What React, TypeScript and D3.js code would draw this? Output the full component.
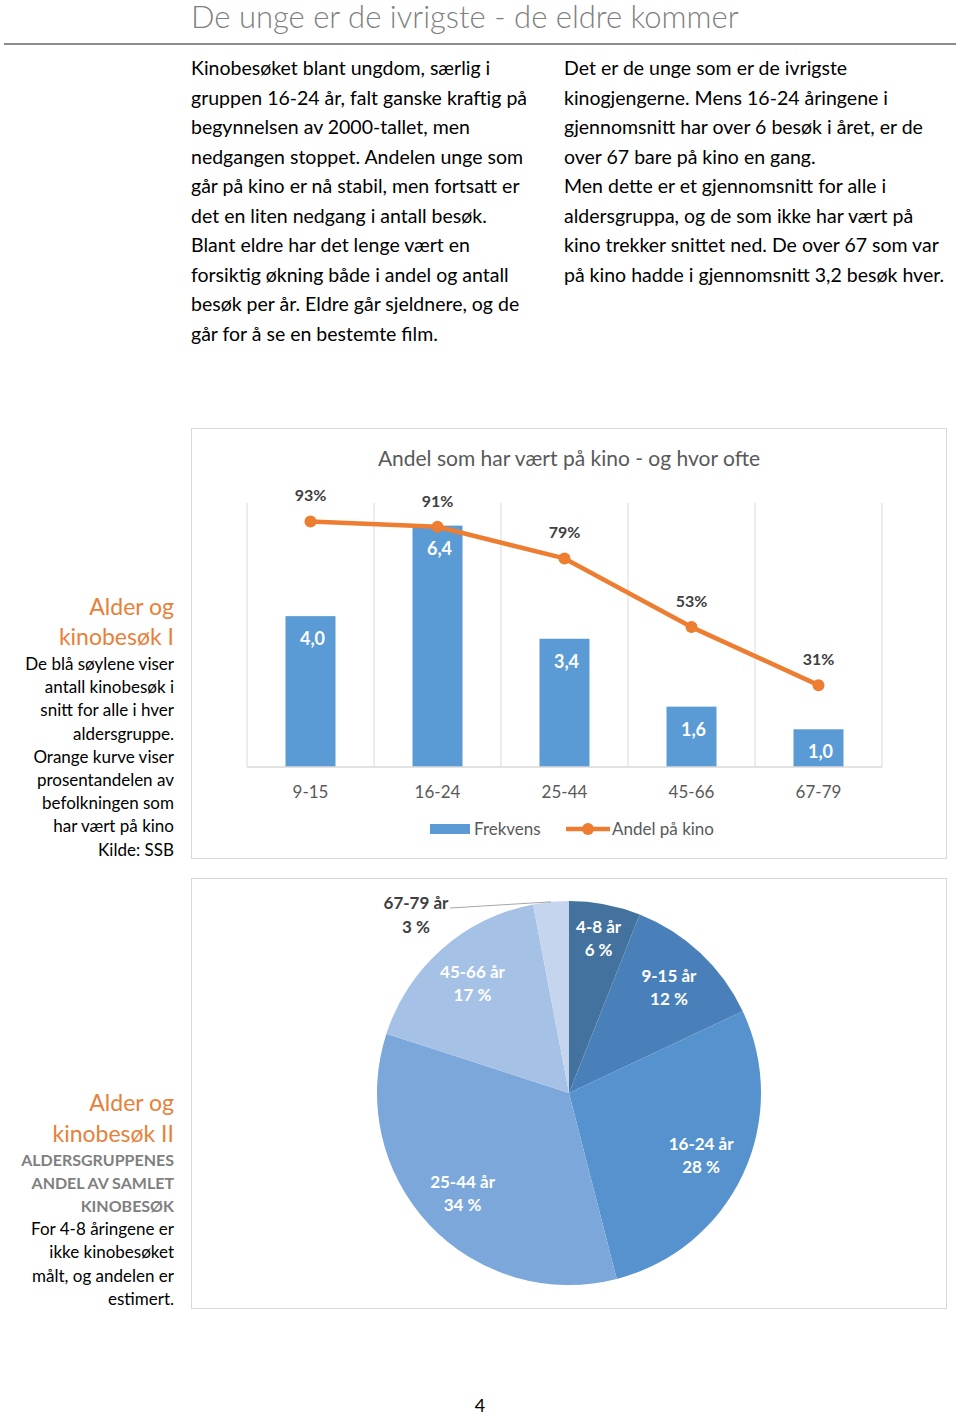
import React from "react";
import * as d3 from "d3";

const categories = ["9-15", "16-24", "25-44", "45-66", "67-79"];
const frekvens = [4.0, 6.4, 3.4, 1.6, 1.0];
const andel = [0.93, 0.91, 0.79, 0.53, 0.31];

const pieLabels = ["4-8 år", "9-15 år", "16-24 år", "25-44 år", "45-66 år", "67-79 år"];
const pieValues = [6, 12, 28, 34, 17, 3];
const pieColors = ["#44729f", "#4a80ba", "#5692cd", "#7ba7da", "#a5c1e5", "#c5d5ee"];

const leftParagraph = [
  "Kinobesøket blant ungdom, særlig i",
  "gruppen 16-24 år, falt ganske kraftig på",
  "begynnelsen av 2000-tallet, men",
  "nedgangen stoppet. Andelen unge som",
  "går på kino er nå stabil, men fortsatt er",
  "det en liten nedgang i antall besøk.",
  "Blant eldre har det lenge vært en",
  "forsiktig økning både i andel og antall",
  "besøk per år. Eldre går sjeldnere, og de",
  "går for å se en bestemte film.",
];
const rightParagraph = [
  "Det er de unge som er de ivrigste",
  "kinogjengerne. Mens 16-24 åringene i",
  "gjennomsnitt har over 6 besøk i året, er de",
  "over 67 bare på kino en gang.",
  "Men dette er et gjennomsnitt for alle i",
  "aldersgruppa, og de som ikke har vært på",
  "kino trekker snittet ned. De over 67 som var",
  "på kino hadde i gjennomsnitt 3,2 besøk hver.",
];
const side1Body = [
  "De blå søylene viser",
  "antall kinobesøk i",
  "snitt for alle i hver",
  "aldersgruppe.",
  "Orange kurve viser",
  "prosentandelen av",
  "befolkningen som",
  "har vært på kino",
  "Kilde: SSB",
];
const side2Caps = ["ALDERSGRUPPENES", "ANDEL AV SAMLET", "KINOBESØK"];
const side2Body = ["For 4-8 åringene er", "ikke kinobesøket", "målt, og andelen er", "estimert."];

const FONT = "Lato, 'Open Sans', sans-serif";

export default function App() {
  // bar/line chart scales
  const x = d3.scalePoint<string>().domain(categories).range([247, 882]).padding(0.5);
  const step = x.step();
  const yBar = d3.scaleLinear().domain([0, 7]).range([767, 503]);
  const yPct = d3.scaleLinear().domain([0, 1]).range([767, 503]);
  const barW = 50;
  const lineGen = d3
    .line<number>()
    .x((_, i) => x(categories[i]) as number)
    .y((d) => yPct(d));
  const gridXs = d3.range(categories.length + 1).map((i) => 247 + i * step);

  // pie
  const cx = 569;
  const cy = 1093;
  const r = 192;
  const pie = d3.pie<number>().sort(null).value((d) => d);
  const arcs = pie(pieValues);
  const arcGen = d3.arc<d3.PieArcDatum<number>>().innerRadius(0).outerRadius(r);
  const labelR = (i: number) => (i === 0 ? 158 : 146);
  const fmt = (v: number) => v.toFixed(1).replace(".", ",");

  return (
    <svg
      width={960}
      height={1416}
      style={{ position: "absolute", left: 0, top: 0, background: "#fff" }}
      fontFamily={FONT}
    >
      {/* Title */}
      <text x={191} y={28} fontSize={31} fontWeight={300} fill="#7f7f7f">
        De unge er de ivrigste - de eldre kommer
      </text>
      <line x1={4} x2={956} y1={44} y2={44} stroke="#8c8c8c" strokeWidth={2} />

      {/* Paragraphs */}
      {leftParagraph.map((t, i) => (
        <text key={"l" + i} x={191} y={75 + i * 29.5} fontSize={19.5} fill="#000">
          {t}
        </text>
      ))}
      {rightParagraph.map((t, i) => (
        <text key={"r" + i} x={564} y={75 + i * 29.5} fontSize={19.5} fill="#000">
          {t}
        </text>
      ))}

      {/* Chart 1 box */}
      <rect x={191.5} y={428.5} width={755} height={430} fill="#fff" stroke="#d9d9d9" strokeWidth={1} />
      <text x={569} y={466} fontSize={21} textAnchor="middle" fill="#595959">
        Andel som har vært på kino - og hvor ofte
      </text>
      {gridXs.map((gx, i) => (
        <line key={"g" + i} x1={gx} x2={gx} y1={503} y2={767} stroke="#d9d9d9" strokeWidth={1} />
      ))}
      {categories.map((c, i) => (
        <rect
          key={"b" + c}
          x={(x(c) as number) - barW / 2}
          y={yBar(frekvens[i])}
          width={barW}
          height={767 - yBar(frekvens[i])}
          fill="#5b9bd5"
        />
      ))}
      <line x1={247} x2={882} y1={767} y2={767} stroke="#d9d9d9" strokeWidth={1.5} />
      {categories.map((c, i) => (
        <text
          key={"bl" + c}
          x={(x(c) as number) + 2}
          y={yBar(frekvens[i]) + 29}
          fontSize={18}
          fontWeight={700}
          textAnchor="middle"
          fill="#fff"
        >
          {fmt(frekvens[i])}
        </text>
      ))}
      <path d={lineGen(andel) || ""} fill="none" stroke="#ed7d31" strokeWidth={4.5} strokeLinejoin="round" />
      {categories.map((c, i) => (
        <circle key={"m" + c} cx={x(c) as number} cy={yPct(andel[i])} r={6} fill="#ed7d31" />
      ))}
      {categories.map((c, i) => (
        <text
          key={"ml" + c}
          x={x(c) as number}
          y={yPct(andel[i]) - 20}
          fontSize={16}
          fontWeight={700}
          textAnchor="middle"
          fill="#404040"
        >
          {Math.round(andel[i] * 100) + "%"}
        </text>
      ))}
      {categories.map((c) => (
        <text key={"xl" + c} x={x(c) as number} y={798} fontSize={17} textAnchor="middle" fill="#595959">
          {c}
        </text>
      ))}
      {/* Legend */}
      <rect x={430} y={824} width={40} height={10} fill="#5b9bd5" />
      <text x={474} y={835} fontSize={17} fill="#595959">
        Frekvens
      </text>
      <line x1={566} x2={610} y1={829} y2={829} stroke="#ed7d31" strokeWidth={4.5} />
      <circle cx={588} cy={829} r={6} fill="#ed7d31" />
      <text x={612} y={835} fontSize={17} fill="#595959">
        Andel på kino
      </text>

      {/* Sidebar 1 */}
      <text x={174} y={615} fontSize={23} textAnchor="end" fill="#e8803a">
        Alder og
      </text>
      <text x={174} y={645} fontSize={23} textAnchor="end" fill="#e8803a">
        kinobesøk I
      </text>
      {side1Body.map((t, i) => (
        <text key={"s1" + i} x={174} y={670 + i * 23.2} fontSize={17} textAnchor="end" fill="#000">
          {t}
        </text>
      ))}

      {/* Chart 2 box */}
      <rect x={191.5} y={878.5} width={755} height={430} fill="#fff" stroke="#d9d9d9" strokeWidth={1} />
      <g transform={`translate(${cx},${cy})`}>
        {arcs.map((a, i) => (
          <path key={"p" + i} d={arcGen(a) || ""} fill={pieColors[i]} />
        ))}
        {arcs.map((a, i) => {
          if (i === arcs.length - 1) return null;
          const la = d3.arc<d3.PieArcDatum<number>>().innerRadius(labelR(i)).outerRadius(labelR(i));
          const [lx, ly] = la.centroid(a);
          return (
            <g key={"pl" + i}>
              <text x={lx} y={ly - 5} fontSize={17} fontWeight={700} textAnchor="middle" fill="#fff">
                {pieLabels[i]}
              </text>
              <text x={lx} y={ly + 18} fontSize={17} fontWeight={700} textAnchor="middle" fill="#fff">
                {pieValues[i] + " %"}
              </text>
            </g>
          );
        })}
        {(() => {
          const a = arcs[arcs.length - 1];
          const mid = (a.startAngle + a.endAngle) / 2;
          const px = Math.sin(mid) * r;
          const py = -Math.cos(mid) * r;
          return (
            <g>
              <line x1={450 - cx} y1={908 - cy} x2={px} y2={py} stroke="#a6a6a6" strokeWidth={1} />
              <text x={416 - cx} y={909 - cy} fontSize={17} fontWeight={700} textAnchor="middle" fill="#404040">
                {pieLabels[arcs.length - 1]}
              </text>
              <text x={416 - cx} y={933 - cy} fontSize={17} fontWeight={700} textAnchor="middle" fill="#404040">
                {pieValues[arcs.length - 1] + " %"}
              </text>
            </g>
          );
        })()}
      </g>

      {/* Sidebar 2 */}
      <text x={174} y={1111} fontSize={23} textAnchor="end" fill="#e8803a">
        Alder og
      </text>
      <text x={174} y={1142} fontSize={23} textAnchor="end" fill="#e8803a">
        kinobesøk II
      </text>
      {side2Caps.map((t, i) => (
        <text key={"s2c" + i} x={174} y={1166 + i * 23.2} fontSize={16} fontWeight={700} textAnchor="end" fill="#7f7f7f">
          {t}
        </text>
      ))}
      {side2Body.map((t, i) => (
        <text key={"s2b" + i} x={174} y={1235 + i * 23.3} fontSize={17} textAnchor="end" fill="#000">
          {t}
        </text>
      ))}

      {/* Page number */}
      <text x={480} y={1412} fontSize={18} textAnchor="middle" fill="#000">
        4
      </text>
    </svg>
  );
}
